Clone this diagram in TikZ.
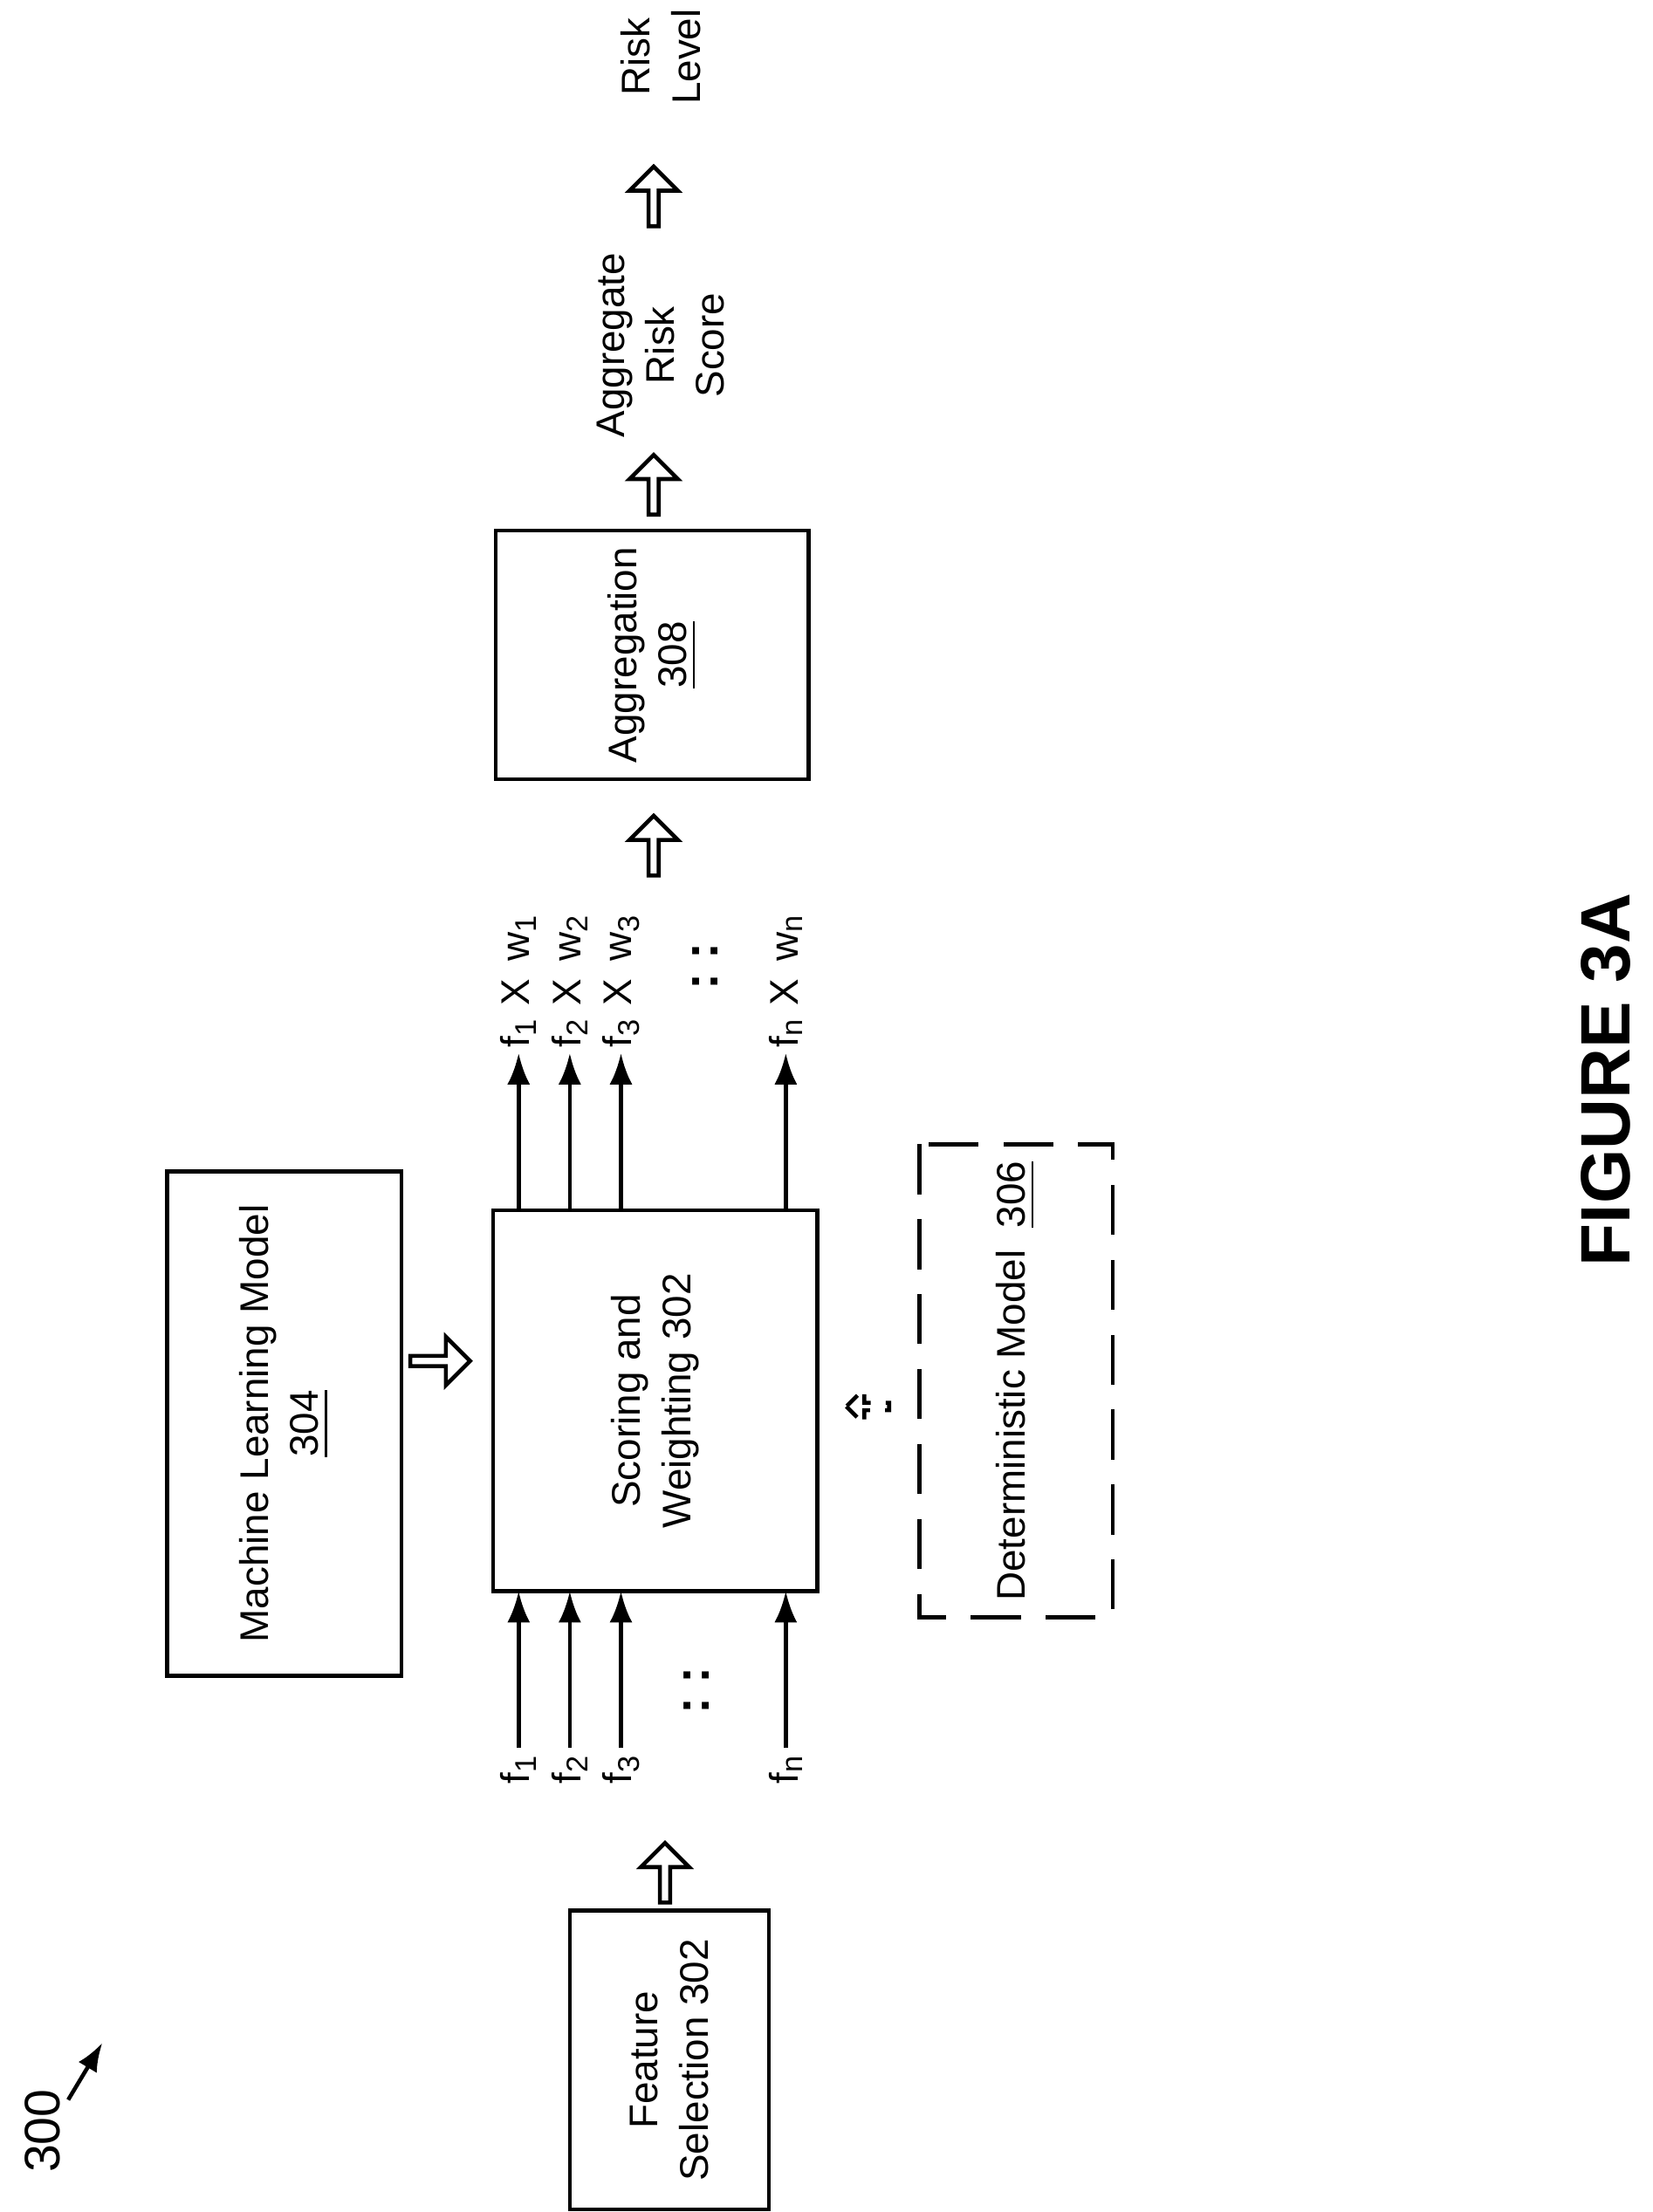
\documentclass[tikz,border=0pt]{standalone}
\usepackage{fontspec}
\setmainfont{Liberation Sans}
\usetikzlibrary{arrows.meta}
\usetikzlibrary{positioning}
\usetikzlibrary{shapes.arrows}
\usetikzlibrary{decorations.pathmorphing}

\tikzset{
  blk/.style={draw, thick, rotate=90, align=center, font=\fontsize{8}{10}\selectfont},
  lbl/.style={rotate=90, font=\fontsize{8}{10}\selectfont, inner sep=1pt},
  hollow/.style={single arrow, draw, thick, minimum height=0.42cm, minimum width=0.34cm,
    single arrow head extend=1.5pt, inner sep=0pt},
  sig/.style={thick, -{Latex[length=2.2mm,width=1.6mm]}},
}

\begin{document}
\begin{tikzpicture}[x=0.01cm, y=-0.01cm]
\useasboundingbox (0,0) rectangle (1163,1557);

% boxes
\node [blk, minimum width=2.1cm, minimum height=1.4cm] (fs) at (471,1450) {Feature\\Selection 302};
\node [blk, minimum width=2.68cm, minimum height=2.28cm] (sw) at (461,986) {Scoring and\\Weighting 302};
\node [blk, minimum width=3.55cm, minimum height=1.65cm] (ml) at (200,1002) {Machine Learning Model\\\underline{304}};
\node [blk, dashed, dash pattern=on 10pt off 5pt, minimum width=3.25cm, minimum height=1.36cm] (dm) at (715,972) {Deterministic Model\ \ \underline{306}};
\node [blk, minimum width=1.67cm, minimum height=2.2cm] (ag) at (459,461) {Aggregation\\\underline{308}};

% hollow arrows
\node [hollow, shape border rotate=90] (h1) at (468,1320) {};
\node [hollow, shape border rotate=0] (h2) at (308,958) {};
\node [hollow, dashed, shape border rotate=180, minimum height=0.3cm, minimum width=0.25cm] (h3) at (612,990) {};
\node [hollow, shape border rotate=90] (h4) at (460,597) {};
\node [hollow, shape border rotate=90] (h5) at (460,343) {};
\node [hollow, shape border rotate=90] (h6) at (460,140) {};

% inputs
\foreach \n/\x/\s in {1/365/1, 2/401/2, 3/437/3, 4/553/n} {
  \node [lbl] (f\n) at (\x,1245) {f$_{\mathrm{\s}}$};
  \coordinate (i\n) at (\x,1120);
  \draw [sig] (f\n) -- (i\n);
  \coordinate (o\n) at (\x,852);
  \node [lbl] (w\n) at (\x,690) {f$_{\mathrm{\s}}$ X\, w$_{\mathrm{\s}}$};
  \draw [sig] (o\n) -- (w\n);
}
\node [lbl, font=\bfseries] (d1) at (490,1190) {:\ :};
\node [lbl, font=\bfseries] (d2) at (496,680) {:\ :};

% outputs
\node [lbl, align=center] (ars) at (465,243) {Aggregate\\Risk\\Score};
\node [lbl, align=center] (rl) at (465,40) {Risk\\Level};

% labels
\node [lbl, font=\fontsize{10}{12}\selectfont] (ref) at (30,1500) {300};
\coordinate (refend) at (72,1438);
\draw [thick, -{Latex[length=2mm]}, decorate, decoration={snake, amplitude=2pt, segment length=20pt, post length=3mm}] (48,1478) -- (refend);
\node [lbl, font=\fontsize{14}{16}\selectfont\bfseries] (fig) at (1130,760) {FIGURE 3A};
\end{tikzpicture}
\end{document}
